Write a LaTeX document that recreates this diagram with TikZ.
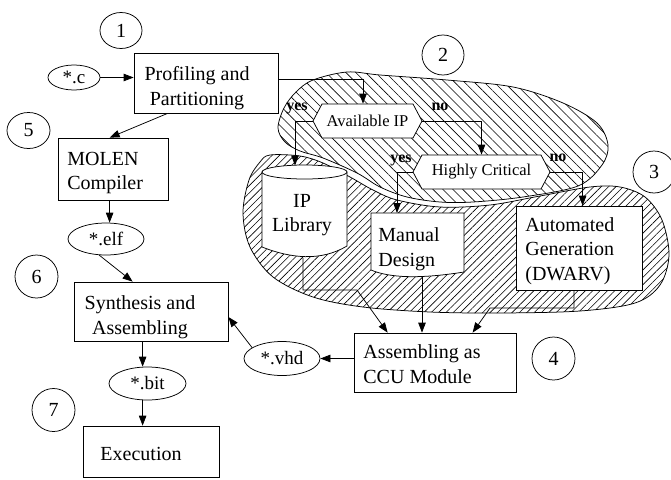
\documentclass[tikz,border=0pt]{standalone}
\usepackage{fontspec}
\setmainfont{Liberation Serif}
\usetikzlibrary{arrows.meta,calc,patterns.meta,shapes.geometric}
\begin{document}
\begin{tikzpicture}[x=1pt,y=-1pt,line width=0.75pt,
  arr/.style={-{Triangle[length=10pt,width=7.5pt]}},
  boxshape/.style={draw,fill=white,inner sep=0pt},
  txt/.style={font=\fontsize{20}{24.5}\selectfont,align=center,inner sep=0pt},
  txtl/.style={font=\fontsize{20}{24.5}\selectfont,align=left,inner sep=0pt},
  oval/.style={ellipse,draw,fill=white,inner sep=0pt,font=\fontsize{19}{22}\selectfont},
  num/.style={ellipse,draw,inner sep=0pt,font=\fontsize{20}{22}\selectfont},
  hexlabel/.style={draw=none,inner sep=0pt,font=\fontsize{16.5}{19}\selectfont},
  yn/.style={inner sep=0pt,font=\bfseries\fontsize{16}{18}\selectfont},
  hatchA/.style={pattern={Lines[angle=-45,distance=7pt,line width=0.6pt]}},
  hatchB/.style={pattern={Lines[angle=45,distance=5.2pt,line width=0.6pt]}}]
\useasboundingbox (0,0) rectangle (671,479);

% hatched regions
\draw[hatchA] plot[smooth cycle,tension=0.55] coordinates {(278,128) (284,108) (296,92) (313,80) (347,72) (380,75) (447,80) (513,87) (563,103) (597,123) (608,145) (602,165) (578,186) (523,197) (473,202) (440,202) (407,197) (380,187) (357,173) (323,158) (300,151) (285,142)};
\draw[hatchB] plot[smooth cycle,tension=0.55] coordinates {(270,155) (300,156) (323,163) (350,177) (373,190) (397,200) (440,207) (490,205) (540,196) (590,187) (620,187) (645,197) (662,220) (669,255) (660,285) (635,303) (580,311) (500,313) (430,312) (363,307) (313,297) (273,277) (250,247) (243,213) (249,180) (260,162)};

% hexagons
\coordinate (avc) at (367.5,121);
\draw[fill=white] ($(avc)+(-54.5,0)$) -- ($(avc)+(-45.5,-17)$) -- ($(avc)+(45.5,-17)$) -- ($(avc)+(54.5,0)$) -- ($(avc)+(45.5,17)$) -- ($(avc)+(-45.5,17)$) -- cycle;
\node[hexlabel,minimum width=109,minimum height=34] (av) at (avc) {Available IP};
\coordinate (hcc) at (481.5,172);
\draw[fill=white] ($(hcc)+(-68.5,0)$) -- ($(hcc)+(-59.5,-17)$) -- ($(hcc)+(59.5,-17)$) -- ($(hcc)+(68.5,0)$) -- ($(hcc)+(59.5,17)$) -- ($(hcc)+(-59.5,17)$) -- cycle;
\node[hexlabel,minimum width=137,minimum height=34] (hc) at (hcc) {Highly Critical};

% IP library cylinder
\draw[fill=white] (262,172) -- (262,247) .. controls (290,258) and (320,262) .. (347,246) -- (347,172) -- cycle;
\draw[fill=white] (304.5,172) ellipse [x radius=42.5, y radius=7];
\node[txt] (iplt) at (302,215) {IP\\Library};
\coordinate (ipltop) at (295,165.5);
\coordinate (iplb) at (303,258);
\coordinate (iplk) at (357,290);

% manual design document
\draw[fill=white] (371,213) -- (371,270) .. controls (390,278) and (420,279) .. (464,272) -- (464,213) -- cycle;
\node[txtl] (mant) at (409,249) {Manual\\Design};
\coordinate (mantop) at (397,213);
\coordinate (manbot) at (422,276.5);

% automated generation
\node[boxshape,minimum width=126,minimum height=84] (auto) at (579,248) {};
\node[txtl,anchor=west] (autot) at (525,251) {Automated\\Generation\\(DWARV)};
\coordinate (autok) at (490,308);

% other boxes
\node[boxshape,minimum width=144,minimum height=60] (prof) at (206,83) {};
\node[txt] (proft) at (197,88) {Profiling and\\Partitioning};
\node[boxshape,minimum width=110,minimum height=62] (molen) at (113,169) {};
\node[txtl,anchor=west] (molent) at (67,173) {MOLEN\\Compiler};
\node[boxshape,minimum width=154,minimum height=59] (synth) at (151,311.5) {};
\node[txt] (syntht) at (140,317) {Synthesis and\\Assembling};
\node[boxshape,minimum width=136,minimum height=51] (exec) at (151,451.5) {};
\node[txt] (exect) at (141,453.5) {Execution};
\node[boxshape,minimum width=162,minimum height=59] (asm) at (435,362.5) {};
\node[txtl,anchor=west] (asmt) at (363,364) {Assembling as\\CCU Module};

% file ovals
\node[oval,minimum width=52,minimum height=25] (c) at (74,77.5) {*.c};
\node[oval,minimum width=76,minimum height=32] (elf) at (106,239) {*.elf};
\node[oval,minimum width=76,minimum height=34] (vhd) at (282,358.5) {*.vhd};
\node[oval,minimum width=77,minimum height=33] (bit) at (147.5,383.5) {*.bit};

% step numbers
\node[num,minimum width=42,minimum height=36] (n1) at (121,30.5) {1};
\node[num,minimum width=42,minimum height=40] (n2) at (443,55) {2};
\node[num,minimum width=42,minimum height=42] (n3) at (654,172) {3};
\node[num,minimum width=43,minimum height=43] (n4) at (553.5,358.5) {4};
\node[num,minimum width=43,minimum height=36] (n5) at (28.5,130.5) {5};
\node[num,minimum width=43,minimum height=43] (n6) at (36.5,276.5) {6};
\node[num,minimum width=43,minimum height=43] (n7) at (53.5,410) {7};

% yes / no labels
\node[yn] (yes1) at (297,108) {yes};
\node[yn] (no1) at (440,107) {no};
\node[yn] (yes2) at (401,160) {yes};
\node[yn] (no2) at (558,158) {no};

% connectors
\draw[arr] (c.east) -- (c.east -| prof.west);
\draw[arr] ($(prof.south west)+(34,0)$) -- ($(molen.north west)+(52,0)$);
\draw[arr] ($(prof.east)+(0,-4)$) -| ($(av.north)+(-4.5,0)$);
\draw[arr] (av.west) -| (ipltop);
\draw[arr] (av.east) -| (hc.north);
\draw[arr] (hc.west) -| (mantop);
\draw[arr] (hc.east) -| ($(auto.north west)+(67,0)$);
\draw[arr] (iplb) |- (iplk) -- ($(asm.north west)+(34,0)$);
\draw[arr] (manbot) -- (manbot |- asm.north);
\draw[arr] ($(auto.south)+(-5,0)$) |- (autok) -- ($(asm.north west)+(119,0)$);
\draw[arr] (vhd.east -| asm.west) -- (vhd.east);
\draw[arr] (vhd.160) -- ($(synth.east)+(0,5.5)$);
\draw[arr] ($(molen.south west)+(52,0)$) coordinate (m1) -- (m1 |- elf.north);
\draw[arr] (elf.247) -- ($(synth.north west)+(59,0)$);
\draw[arr] ($(synth.south west)+(69,0)$) coordinate (s1) -- (s1 |- bit.north);
\draw[arr] (bit.south -| s1) -- (s1 |- exec.north);
\end{tikzpicture}
\end{document}
